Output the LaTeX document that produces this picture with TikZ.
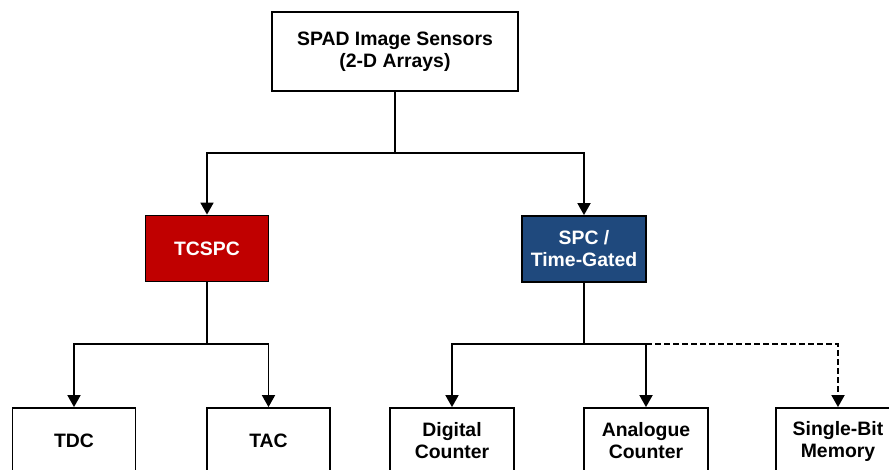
\documentclass[tikz,border=0pt]{standalone}
\usepackage{fontspec}
\setmainfont{Liberation Sans}
\usepackage{xcolor}
\usepackage{tikz}
\usetikzlibrary{arrows.meta, positioning}
\definecolor{Ink}{HTML}{000000}
\definecolor{TimeRed}{HTML}{C00000}
\definecolor{CountBlue}{HTML}{1F497D}
\tikzset{
  block/.style={draw=Ink, line width=1.8pt, fill=white, text=Ink, align=center,
    font=\fontsize{19.4pt}{22pt}\selectfont\bfseries, inner sep=0pt},
  wide/.style={minimum width=246pt, minimum height=79pt},
  leaf/.style={minimum width=123pt, minimum height=66pt},
  redblock/.style={fill=TimeRed, text=white},
  blueblock/.style={fill=CountBlue, text=white},
  link/.style={line width=1.8pt, color=Ink},
  feed/.style={-{Triangle[length=12pt, width=13pt]}, line width=1.8pt, color=Ink},
  optfeed/.style={feed, dash pattern=on 6pt off 3pt},
}

\begin{document}
\begin{tikzpicture}[x=1pt, y=-1pt]
  \useasboundingbox (0,0) rectangle (889,470);
  \clip (0,0) rectangle (889,470);

  % sensor classes
  \node[block, wide] (spad) at (395,51.5) {SPAD Image Sensors\\(2-D Arrays)};
  \node[block, leaf, redblock] (tcspc) at (207,248.5) {TCSPC};
  \node[block, leaf, blueblock, minimum width=124pt] (spc) at (584,249) {SPC /\\Time-Gated};

  % pixel circuits
  \node[block, leaf] (tdc) at (74,441) {TDC};
  \node[block, leaf] (tac) at (268.5,441) {TAC};
  \node[block, leaf, minimum width=124pt] (dig) at (452,441) {Digital\\Counter};
  \node[block, leaf, minimum width=124pt] (ana) at (646,441) {Analogue\\Counter};
  \node[block, leaf, minimum width=124pt] (sbm) at (838,441) {Single-Bit\\Memory};

  \coordinate (top split) at (spad.south |- 0,153);
  \coordinate (left split) at (tcspc.south |- 0,344);
  \coordinate (right split) at (spc.south |- 0,344);
  \coordinate (ana split) at (ana.north |- 0,344);

  \draw[link] (spad.south) -- (top split);
  \draw[feed] (top split) -| (tcspc.north);
  \draw[feed] (top split) -| (spc.north);

  \draw[link] (tcspc.south) -- (left split);
  \draw[feed] (left split) -| (tdc.north);
  \draw[feed] (left split) -| (tac.north);

  \draw[link] (spc.south) -- (right split);
  \draw[feed] (right split) -| (dig.north);
  \draw[feed] (right split) -| (ana.north);
  \draw[optfeed] (ana split) -| (sbm.north);
\end{tikzpicture}
\end{document}
